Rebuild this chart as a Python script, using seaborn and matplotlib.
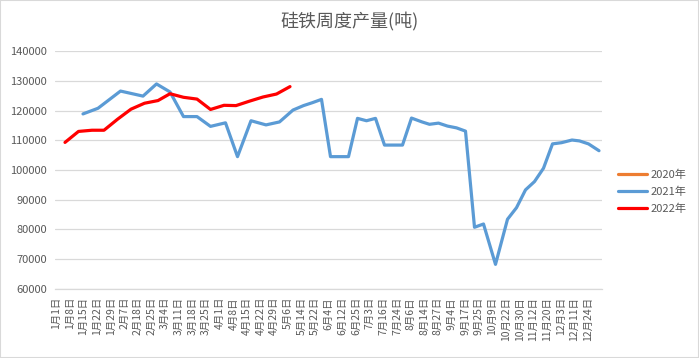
import matplotlib
matplotlib.use('Agg')
import matplotlib.pyplot as plt
import seaborn as sns
from matplotlib.patches import Rectangle
from matplotlib.lines import Line2D

# ---- data ----
categories = ['1月1日', '1月8日', '1月15日', '1月22日', '1月29日', '2月7日', '2月18日', '2月25日',
              '3月4日', '3月11日', '3月18日', '3月25日', '4月1日', '4月8日', '4月15日', '4月22日',
              '4月29日', '5月6日', '5月14日', '5月22日', '6月4日', '6月12日', '6月25日', '7月3日',
              '7月16日', '7月24日', '8月6日', '8月14日', '8月27日', '9月4日', '9月17日', '9月25日',
              '10月9日', '10月22日', '10月30日', '11月12日', '11月20日', '12月3日', '12月11日', '12月24日']
y_ticks = [60000, 70000, 80000, 90000, 100000, 110000, 120000, 130000, 140000]

# series 2020: no values shown
day_2020 = []
val_2020 = []

# series 2021: day of year, tonnes
day_2021 = [19, 29, 44, 59, 68, 77, 86, 95, 104, 114, 122, 131, 141, 150, 159, 166, 172, 178,
            184, 190, 196, 202, 208, 214, 220, 226, 232, 238, 245, 250, 256, 262, 268, 274,
            280, 286, 294, 302, 308, 314, 320, 326, 332, 338, 345, 350, 356, 363]
val_2021 = [118900, 120800, 126600, 124900, 129000, 126300, 118000, 118000, 114700, 115900,
            104500, 116600, 115200, 116200, 120200, 121700, 122700, 123800,
            104500, 104500, 104500, 117400, 116600, 117400, 108400, 108400, 108400,
            117500, 116200, 115400, 115800, 114800, 114200, 113100,
            80700, 81800, 68200, 83400, 87300, 93300, 96100, 100600, 108800, 109200,
            110100, 109800, 108800, 106500]

# series 2022
day_2022 = [7, 16, 25, 33, 42, 51, 60, 69, 77, 86, 95, 104, 113, 121, 130, 139, 148, 157]
val_2022 = [109300, 113000, 113400, 113400, 117100, 120500, 122500, 123400, 125700, 124500,
            123900, 120400, 121800, 121700, 123200, 124600, 125600, 128100]

series_names = ['2020年', '2021年', '2022年']
series_colors = ['#ED7D31', '#5B9BD5', '#FF0000']

# ---- style ----
sns.set_theme(style='white')
plt.rcParams['font.family'] = ['Noto Sans CJK SC', 'DejaVu Sans']
text_color = '#595959'
grid_color = '#D9D9D9'

fig = plt.figure(figsize=(6.99, 3.58), dpi=100)
fig.patch.set_facecolor('white')
ax = fig.add_axes([54.5 / 699, 1 - 288.7 / 358, (602 - 54.5) / 699, (288.7 - 51.3) / 358])

# category axis with the labels
ax.set_xlim(-0.11, 40.03)
ax.set_xticks(range(len(categories)))
ax.set_xticklabels(categories, rotation=90, fontsize=7.5, color=text_color)
ax.set_ylim(60000, 140000)
ax.set_yticks(y_ticks)
ax.set_yticklabels([str(v) for v in y_ticks], fontsize=8, color=text_color)
ax.tick_params(axis='y', length=0, pad=5.4)
ax.tick_params(axis='x', length=0, pad=6)
ax.yaxis.grid(True, color=grid_color, linewidth=0.9)
ax.set_axisbelow(True)
for s in ['left', 'right', 'top']:
    ax.spines[s].set_visible(False)
ax.spines['bottom'].set_color(grid_color)
ax.spines['bottom'].set_linewidth(0.9)

# hidden date axis carrying the series
ax2 = ax.twiny()
ax2.set_xlim(0, 365)
ax2.set_xticks([])
for s in ax2.spines.values():
    s.set_visible(False)

lw = 2.3
if day_2020:
    sns.lineplot(x=day_2020, y=val_2020, ax=ax2, color=series_colors[0], linewidth=lw)
sns.lineplot(x=day_2021, y=val_2021, ax=ax2, color=series_colors[1], linewidth=lw)
sns.lineplot(x=day_2022, y=val_2022, ax=ax2, color=series_colors[2], linewidth=lw)
ax2.set_ylim(60000, 140000)
ax2.set_xlabel('')
ax2.set_ylabel('')
if ax2.get_legend() is not None:
    ax2.get_legend().remove()

handles = [Line2D([0], [0], color=c, linewidth=lw) for c in series_colors]
fig.legend(handles, series_names, loc='center left', bbox_to_anchor=(618 / 699, 1 - 191.7 / 358),
           frameon=False, fontsize=8, handlelength=2.6, handletextpad=0.3,
           labelspacing=0.6, borderpad=0, borderaxespad=0, labelcolor=text_color)

fig.text(350 / 699, 1 - 22 / 358, '硅铁周度产量(吨)', ha='center', va='center',
         fontsize=13, color=text_color)

fig.add_artist(Rectangle((0, 0), 1, 1, transform=fig.transFigure, fill=False,
                         edgecolor=grid_color, linewidth=1.5))

fig.savefig('out.png', dpi=100)
